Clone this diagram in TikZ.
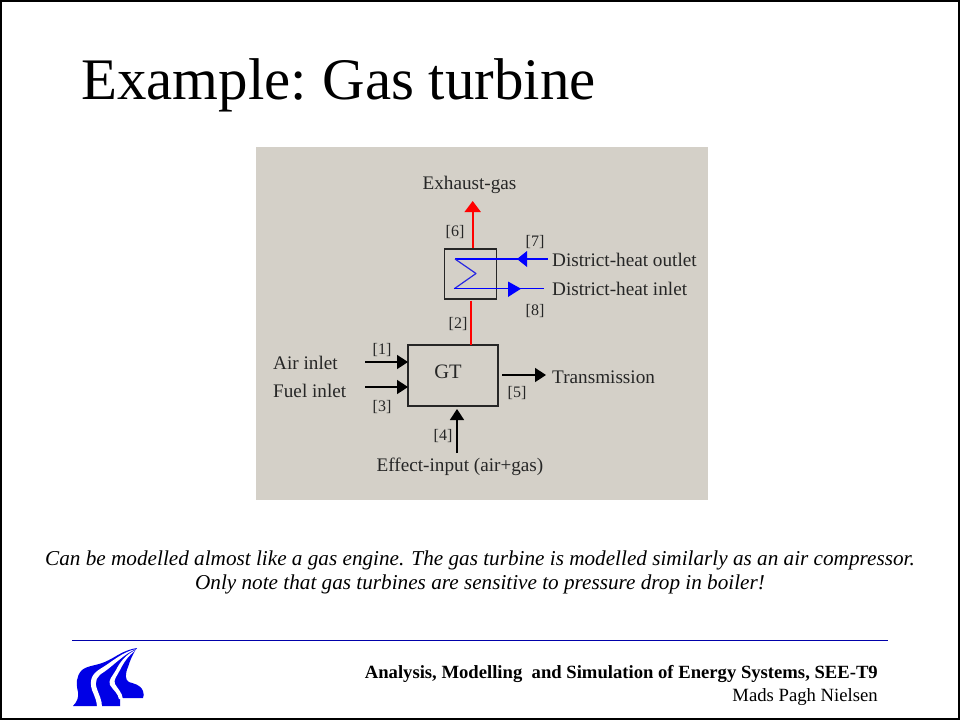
\documentclass[tikz,border=0pt]{standalone}
\usepackage{fontspec}
\setmainfont{Liberation Serif}
\usetikzlibrary{arrows.meta}
\definecolor{panel}{RGB}{212,208,200}
\definecolor{aaublue}{RGB}{0,0,230}
\definecolor{rulecol}{RGB}{0,0,170}
\definecolor{hxblue}{RGB}{40,40,225}
\tikzset{
  x=1pt,y=-1pt,
  lbl/.style={inner sep=0pt,anchor=west,font=\fontsize{19.2}{22}\selectfont,text=black!85},
  tag/.style={inner sep=0pt,font=\fontsize{16}{18}\selectfont,text=black!85},
  blockbox/.style={draw=black!85,line width=1.8pt,inner sep=0pt,fill=none},
  flow/.style={line width=1.6pt,draw=black,-{Triangle[length=11pt,width=14pt]}},
  flowred/.style={line width=1.8pt,draw=red,-{Triangle[length=11pt,width=16pt]}},
  flowblue/.style={line width=1.5pt,draw=blue},
  tri/.style={fill=blue,draw=none},
  capt/.style={inner sep=0pt,font=\fontsize{21.2}{24.5}\selectfont\itshape,align=center},
}
\begin{document}
\begin{tikzpicture}
\useasboundingbox (0,0) rectangle (960,720);
\fill[white] (0,0) rectangle (960,720);
\draw[black,line width=2pt] (1,1) rectangle (959,718.5);

\node[inner sep=0pt,anchor=base west,font=\fontsize{58.9}{60}\selectfont] (title) at (81,99) {Example:\hspace{-4pt} Gas turbine};

\fill[panel] (256,147) rectangle (708,500);

% boxes
\node[blockbox,minimum width=52pt,minimum height=49.5pt] (hx) at (470.5,274) {};
\node[blockbox,minimum width=90pt,minimum height=60.5pt] (gt) at (453,375.5) {};
\node[inner sep=0pt,font=\fontsize{20.5}{22}\selectfont,text=black!85] (gtl) at (448,372) {GT};

% labels
\node[lbl,anchor=center] (exh) at (469.5,184.5) {Exhaust-gas};
\node[lbl] (dho) at (552,260) {District-heat outlet};
\node[lbl] (dhi) at (552,289) {District-heat inlet};
\node[lbl] (air) at (273,363) {Air inlet};
\node[lbl] (fuel) at (273,391) {Fuel inlet};
\node[lbl] (tr) at (552,377) {Transmission};
\node[lbl,anchor=center] (eff) at (460,466.5) {Effect-input (air+gas)};

\node[tag] at (455,232) {[6]};
\node[tag] at (535,242) {[7]};
\node[tag] at (535,311) {[8]};
\node[tag] at (458,324) {[2]};
\node[tag] at (382,350) {[1]};
\node[tag] at (382,407) {[3]};
\node[tag] at (443,436) {[4]};
\node[tag] at (517,393) {[5]};

% free ends
\coordinate (exTop) at (472.7,201);
\coordinate (hxTop) at (472.7,247.5);
\coordinate (hxBot) at (470.7,300.7);
\coordinate (gtTop) at (470.7,345);
\coordinate (a0) at (365,362);
\coordinate (a1) at (408,362);
\coordinate (f0) at (365,387);
\coordinate (f1) at (408,387);
\coordinate (t0) at (502,375);
\coordinate (t1) at (546,375);
\coordinate (e0) at (457,453);
\coordinate (e1) at (457,409);

% red
\draw[flowred] (hxTop) -- (exTop);
\draw[line width=1.8pt,red] (hxBot) -- (gtTop);

% black
\draw[flow] (a0) -- (a1);
\draw[flow] (f0) -- (f1);
\draw[flow] (t0) -- (t1);
\draw[flow] (e0) -- (e1);

% heat exchanger coil
\coordinate (c1) at (547.5,259);
\coordinate (c2) at (455,259);
\coordinate (c3) at (476,273.5);
\coordinate (c4) at (454.3,288.7);
\coordinate (c5) at (544,288.7);
\draw[flowblue,line join=round] (c1) -- (c2);
\draw[hxblue,line width=1.2pt,line join=round] (c2) -- (c3) -- (c4);
\draw[flowblue] (c4) -- (c5);
\fill[tri] (527,251) -- (527,267) -- (517,259) -- cycle;
\fill[tri] (508,281.5) -- (508,297) -- (521,288.7) -- cycle;

\node[capt] (cap) at (480,572.5) {Can be modelled almost like a gas engine. The gas turbine is modelled similarly as an air compressor.\\Only note that gas turbines are sensitive to pressure drop in boiler!};

\coordinate (r0) at (72,640);
\coordinate (r1) at (888,640);
\draw[rulecol,line width=0.9pt] (r0) -- (r1);

% logo
\fill[aaublue] (73,706) .. controls (77,702) and (79,697) .. (78,692)
  .. controls (76,684) and (76,676) .. (82,670)
  .. controls (88,665) and (98,666) .. (109,660)
  .. controls (117,656) and (124,650) .. (137,648)
  .. controls (132,655) and (130,661) .. (128,667)
  .. controls (125,674) and (125,680) .. (129,682)
  .. controls (134,684) and (140,684) .. (143,691)
  .. controls (144,694) and (144,696) .. (143,698)
  -- (120,698) -- (120,706) -- cycle;
\fill[white] (136,649) .. controls (122,652) and (112,662) .. (100,669)
  .. controls (92,674) and (89,680) .. (92,690)
  .. controls (95,697) and (97,702) .. (97,707) -- (102,707)
  .. controls (102,700) and (99,695) .. (97,689)
  .. controls (94,681) and (97,676) .. (104,672)
  .. controls (114,665) and (124,654) .. (136,649) -- cycle;
\fill[white] (136,650) .. controls (126,654) and (120,662) .. (116,670)
  .. controls (112,677) and (108,680) .. (110,685)
  .. controls (113,690) and (118,693) .. (119,699) -- (123,699)
  .. controls (122,692) and (117,688) .. (115,684)
  .. controls (113,680) and (117,676) .. (120,670)
  .. controls (124,662) and (128,656) .. (136,650) -- cycle;

\node[inner sep=0pt,anchor=base east,font=\fontsize{18.65}{20}\selectfont\bfseries] (foot1) at (878,678) {Analysis, Modelling\ \ and Simulation of Energy Systems, SEE-T9};
\node[inner sep=0pt,anchor=base east,font=\fontsize{18.7}{20}\selectfont] (foot2) at (878,701) {Mads Pagh Nielsen};
\end{tikzpicture}
\end{document}
